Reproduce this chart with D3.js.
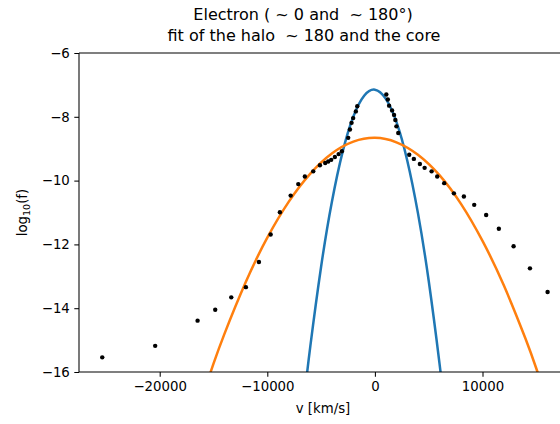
<!DOCTYPE html>
<html>
<head>
<meta charset="utf-8">
<script src="https://cdn.jsdelivr.net/npm/d3@7"></script>
<style>
  html, body { margin: 0; padding: 0; background: #fff; }
  svg { display: block; }
  text { font-family: "DejaVu Sans", sans-serif; fill: #000; }
</style>
</head>
<body>
<svg id="chart" width="560" height="424"></svg>
<script>
// ---- data ----
const obsV = [-25340, -20420, -16480, -14840, -13350, -11990, -10780, -9690, -8830, -7830,
  -7120, -6510, -5730, -5110, -4620, -4340, -4060, -3720, -3370, -3070,
  -2480, -2320, -2170, -2020, -1770, -1640,
  1060, 1200, 1320, 1600, 1780, 1900, 2000, 2170,
  3190, 3620, 4180, 4620, 5270, 5790, 6440, 7340, 8270, 9230, 10340, 11520, 12890, 14410, 16050];
const obsLogF = [-15.54, -15.18, -14.39, -14.05, -13.66, -13.34, -12.55, -11.69, -10.99, -10.47,
  -10.11, -9.87, -9.71, -9.52, -9.45, -9.40, -9.35, -9.26, -9.17, -9.08,
  -8.66, -8.40, -8.19, -8.04, -7.83, -7.67,
  -7.30, -7.46, -7.65, -7.80, -7.94, -8.10, -8.30, -8.51,
  -9.19, -9.32, -9.48, -9.60, -9.71, -9.87, -10.08, -10.40, -10.50, -10.76, -11.08, -11.51, -12.06, -12.75, -13.49];

// core fit (blue)
const coreV = [-6500, -6000, -5000, -4000, -3000, -2000, -1000, 0, 1000, 2000, 3000, 4000, 5000, 6000, 6500];
const coreLogF = [-16.61, -15.19, -12.70, -10.67, -9.10, -7.99, -7.34, -7.15, -7.43, -8.16, -9.36, -11.02, -13.14, -15.72, -17.18];

// halo fit (orange)
const haloV = [-16000, -15000, -14000, -12000, -10000, -8000, -6000, -4000, -2000, 0, 2000, 4000, 6000, 8000, 10000, 12000, 14000, 15000, 16000];
const haloLogF = [-16.72, -15.74, -14.82, -13.18, -11.79, -10.66, -9.78, -9.15, -8.78, -8.66, -8.80, -9.19, -9.83, -10.73, -11.89, -13.30, -14.96, -15.89, -16.88];

const xTicks = [-20000, -10000, 0, 10000];
const yTicks = [-6, -8, -10, -12, -14, -16];
const titleLines = ["Electron ( ~ 0 and  ~ 180°)", "fit of the halo  ~ 180 and the core"];

// ---- layout ----
const svg = d3.select("#chart");
const L = 79, R = 567, T = 53, B = 372;
const x = d3.scaleLinear().domain([-27500, 17853]).range([L, R]);
const y = d3.scaleLinear().domain([-16, -6]).range([B, T]);

svg.append("defs").append("clipPath").attr("id", "clip")
  .append("rect").attr("x", L).attr("y", T).attr("width", R - L).attr("height", B - T);

const plot = svg.append("g").attr("clip-path", "url(#clip)");

const line = d3.line().x(d => x(d[0])).y(d => y(d[1])).curve(d3.curveNatural);

plot.append("path")
  .datum(coreV.map((v, i) => [v, coreLogF[i]]))
  .attr("d", line).attr("fill", "none").attr("stroke", "#1f77b4").attr("stroke-width", 2.5);

plot.append("path")
  .datum(haloV.map((v, i) => [v, haloLogF[i]]))
  .attr("d", line).attr("fill", "none").attr("stroke", "#ff7f0e").attr("stroke-width", 2.5);

plot.selectAll("circle.obs")
  .data(obsV.map((v, i) => [v, obsLogF[i]]))
  .enter().append("circle").attr("class", "obs")
  .attr("cx", d => x(d[0])).attr("cy", d => y(d[1])).attr("r", 2.2).attr("fill", "#000");

// axes
const fmt = d => (d < 0 ? "\u2212" + Math.abs(d) : String(d));
const xAxis = svg.append("g").attr("transform", `translate(0,${B})`)
  .call(d3.axisBottom(x).tickValues(xTicks).tickFormat(fmt).tickSizeOuter(0).tickSize(4.7).tickPadding(4.5));
const yAxis = svg.append("g").attr("transform", `translate(${L},0)`)
  .call(d3.axisLeft(y).tickValues(yTicks).tickFormat(fmt).tickSizeOuter(0).tickSize(4.7).tickPadding(4.5));
[xAxis, yAxis].forEach(g => {
  g.selectAll("text").attr("font-size", "13.3px").attr("font-family", "DejaVu Sans, sans-serif").attr("fill", "#000");
  g.selectAll("line").attr("stroke", "#000").attr("stroke-width", 1.05);
  g.select(".domain").remove();
});

// spines
const sp = svg.append("g").attr("stroke", "#000").attr("stroke-width", 1.05).attr("fill", "none");
sp.append("line").attr("x1", L).attr("x2", L).attr("y1", T).attr("y2", B);
sp.append("line").attr("x1", L).attr("x2", R).attr("y1", B).attr("y2", B);
sp.append("line").attr("x1", L).attr("x2", R).attr("y1", T).attr("y2", T);
sp.append("line").attr("x1", R).attr("x2", R).attr("y1", T).attr("y2", B);

// labels
svg.append("text").attr("x", 323).attr("y", 413).attr("text-anchor", "middle")
  .attr("font-size", "13.3px").text("v [km/s]");

const yl = svg.append("text").attr("transform", `translate(27,${(T + B) / 2}) rotate(-90)`)
  .attr("text-anchor", "middle").attr("font-size", "13.3px");
yl.append("tspan").text("log");
yl.append("tspan").attr("font-size", "9.5px").attr("dy", 3).text("10");
yl.append("tspan").attr("dy", -3).text("(f)");

svg.append("text").attr("x", 303).attr("y", 20).attr("text-anchor", "middle")
  .attr("font-size", "16px").style("white-space", "pre").text(titleLines[0]);
svg.append("text").attr("x", 304).attr("y", 41).attr("text-anchor", "middle")
  .attr("font-size", "16px").style("white-space", "pre").text(titleLines[1]);
</script>
</body>
</html>
